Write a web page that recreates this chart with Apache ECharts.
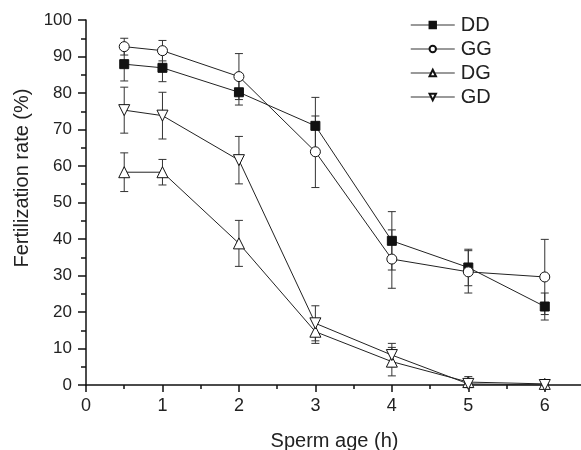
<!DOCTYPE html>
<html>
<head>
<meta charset="utf-8">
<script src="https://cdn.jsdelivr.net/npm/echarts@6/dist/echarts.min.js"></script>
<style>
html, body { margin: 0; padding: 0; background: #fff; }
#chart { width: 581px; height: 450px; }
</style>
</head>
<body>
<div id="chart"></div>
<script>
// sperm age (h)
var ages = [0.5, 1, 2, 3, 4, 5, 6];

// fertilization rate (%) mean and error per group
var ddMean = [87.9, 86.9, 80.2, 71.0, 39.5, 32.2, 21.5];
var ddErr  = [4.6, 3.8, 3.5, 7.8, 8.0, 5.0, 3.7];
var ggMean = [92.7, 91.6, 84.5, 63.9, 34.5, 31.0, 29.6];
var ggErr  = [2.3, 2.8, 6.3, 9.8, 8.0, 5.8, 10.3];
var dgMean = [58.3, 58.3, 38.8, 14.6, 6.4, 0.8, 0.3];
var dgErr  = [5.3, 3.5, 6.3, 3.2, 3.9, 1.5, 0];
var gdMean = [75.3, 73.8, 61.6, 16.9, 8.2, 0.3, 0];
var gdErr  = [6.3, 6.4, 6.5, 4.8, 3.2, 0, 0];

var FONT = 'Liberation Sans, Arial, sans-serif';

function pairs(mean) {
    return ages.map(function (a, i) { return [a, mean[i]]; });
}
function errData(mean, err) {
    return ages.map(function (a, i) { return [a, mean[i] - err[i], mean[i] + err[i]]; });
}

// vertical error bar with caps
function renderErr(params, api) {
    var x = api.value(0);
    var lo = api.coord([x, api.value(1)]);
    var hi = api.coord([x, api.value(2)]);
    var half = 4;
    var st = { stroke: '#333', lineWidth: 1 };
    return {
        type: 'group',
        children: [
            { type: 'line', shape: { x1: lo[0], y1: lo[1], x2: hi[0], y2: hi[1] }, style: st },
            { type: 'line', shape: { x1: lo[0] - half, y1: lo[1], x2: lo[0] + half, y2: lo[1] }, style: st },
            { type: 'line', shape: { x1: hi[0] - half, y1: hi[1], x2: hi[0] + half, y2: hi[1] }, style: st }
        ]
    };
}

function lineSeries(name, mean, symbol, size, fill, rotate) {
    return {
        name: name,
        type: 'line',
        data: pairs(mean),
        symbol: symbol,
        symbolSize: size,
        symbolRotate: rotate || 0,
        showAllSymbol: true,
        z: 3,
        lineStyle: { color: '#222', width: 1 },
        itemStyle: { color: fill, borderColor: '#111', borderWidth: 1 },
        emphasis: { disabled: true }
    };
}

function errSeries(mean, err) {
    return {
        type: 'custom',
        renderItem: renderErr,
        data: errData(mean, err),
        z: 2,
        silent: true
    };
}

var chart = echarts.init(document.getElementById('chart'));
chart.setOption({
    animation: false,
    textStyle: { fontFamily: FONT },
    grid: { left: 86, right: -2, top: 20, bottom: 65, outerBoundsMode: 'none', containLabel: false },
    legend: {
        orient: 'vertical',
        left: 405,
        top: 10,
        itemWidth: 44,
        itemHeight: 8,
        itemGap: 4,
        lineStyle: { color: '#777', width: 1.5 },
        textStyle: { fontFamily: FONT, fontSize: 20, color: '#222', padding: [0, 0, 0, 1] },
        data: ['DD', 'GG', 'DG', 'GD']
    },
    xAxis: {
        type: 'value',
        min: 0,
        max: 6.5,
        interval: 1,
        name: 'Sperm age (h)',
        nameLocation: 'middle',
        nameGap: 46,
        nameTextStyle: { fontFamily: FONT, fontSize: 20, color: '#222' },
        splitLine: { show: false },
        axisLine: { lineStyle: { color: '#111', width: 1.5 } },
        axisTick: { length: 7, lineStyle: { color: '#111', width: 1.5 } },
        minorTick: { show: true, splitNumber: 2, length: 4, lineStyle: { color: '#111', width: 1.5 } },
        axisLabel: { fontFamily: FONT, fontSize: 18, color: '#222', margin: 12, showMaxLabel: false }
    },
    yAxis: {
        type: 'value',
        min: 0,
        max: 100,
        interval: 10,
        name: 'Fertilization rate (%)',
        nameLocation: 'middle',
        nameGap: 54,
        nameTextStyle: { fontFamily: FONT, fontSize: 20, color: '#222', padding: [0, 0, 0, 49] },
        splitLine: { show: false },
        axisLine: { show: true, lineStyle: { color: '#111', width: 1.5 } },
        axisTick: { show: true, length: 8, lineStyle: { color: '#111', width: 1.5 } },
        minorTick: { show: true, splitNumber: 2, length: 5, lineStyle: { color: '#111', width: 1.5 } },
        axisLabel: { fontFamily: FONT, fontSize: 17, color: '#222', margin: 14 }
    },
    series: [
        errSeries(ddMean, ddErr),
        errSeries(ggMean, ggErr),
        errSeries(dgMean, dgErr),
        errSeries(gdMean, gdErr),
        lineSeries('DD', ddMean, 'rect', 9, '#111'),
        lineSeries('GG', ggMean, 'circle', 10, '#fff'),
        lineSeries('DG', dgMean, 'triangle', 11, '#fff'),
        lineSeries('GD', gdMean, 'triangle', 11, '#fff', 180)
    ]
});
</script>
</body>
</html>
